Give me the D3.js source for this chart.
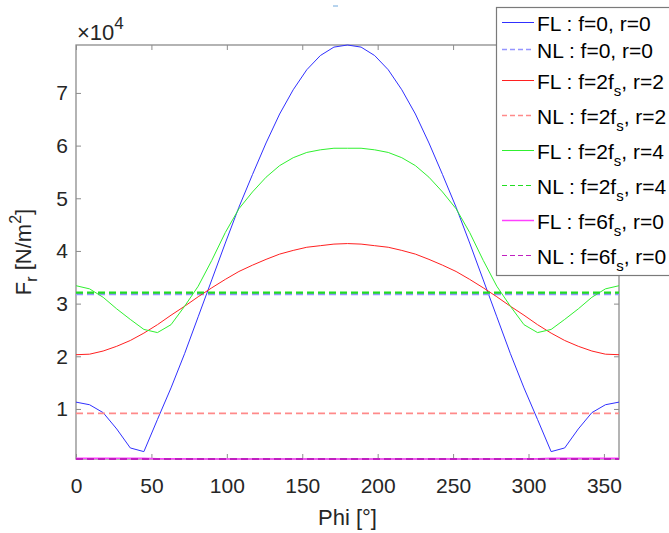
<!DOCTYPE html>
<html>
<head>
<meta charset="utf-8">
<script src="https://cdn.jsdelivr.net/npm/d3@7"></script>
<style>
    body { margin: 0; background: #fff; }
    svg { display: block; font-family: "Liberation Sans", Arial, sans-serif; }
    .tick text { fill: #262626; font-size: 21px; }
    .tick line { stroke: #8c8c8c; }
    .axis-label { fill: #262626; font-size: 22px; }
    .legend text { fill: #000; font-size: 21px; }
</style>
</head>
<body>
<div id="chart"></div>
<script>

// Phi grid [deg]
var phi = [0, 9, 18, 27, 36, 45, 54, 63, 72, 81, 90, 99, 108, 117, 126, 135, 144, 153, 162, 171, 180,
    189, 198, 207, 216, 225, 234, 243, 252, 261, 270, 279, 288, 297, 306, 315, 324, 333, 342, 351, 360];

// full load values [N/m^2]
var flF0R0 = [11300, 10800, 9300, 6200, 2600, 1900, 8000, 14000, 20500, 27500, 34500, 41500, 48300, 54500, 60500, 66000, 70600, 74400, 77100, 78700, 79100,
    78700, 77100, 74400, 70600, 66000, 60500, 54500, 48300, 41500, 34500, 27500, 20500, 14000, 8000, 1900, 2600, 6200, 9300, 10800, 11300];
var flF2R2 = [20300, 20400, 21000, 21900, 23000, 24400, 26000, 27800, 29500, 31300, 33000, 34600, 36100, 37300, 38400, 39400, 40100, 40700, 41000, 41300, 41400,
    41300, 41000, 40700, 40100, 39400, 38400, 37300, 36100, 34600, 33000, 31300, 29500, 27800, 26000, 24400, 23000, 21900, 21000, 20400, 20300];
var flF2R4 = [33400, 32800, 31200, 29000, 27000, 25100, 24500, 26000, 29500, 33300, 38200, 43500, 48000, 51200, 54000, 56200, 57700, 58700, 59200, 59500, 59500,
    59500, 59200, 58700, 57700, 56200, 54000, 51200, 48000, 43500, 38200, 33300, 29500, 26000, 24500, 25100, 27000, 29000, 31200, 32800, 33400];
var flF6R0 = [650, 650, 650, 650, 650, 620, 560, 540, 530, 520, 510, 500, 500, 500, 500, 500, 500, 500, 500, 500, 500,
    500, 500, 500, 500, 500, 500, 500, 500, 500, 510, 520, 530, 540, 560, 620, 650, 650, 650, 650, 650];

// no load values (constant over phi) [N/m^2]
var nlF0R0 = 31800;
var nlF2R2 = 9160;
var nlF2R4 = 32100;
var nlF6R0 = 500;

var yTicks = [10000, 20000, 30000, 40000, 50000, 60000, 70000];
var xTicks = [0, 50, 100, 150, 200, 250, 300, 350];

var seriesInfo = [
    { name: "FL", f: "0", sub: "", r: "0", values: flF0R0, color: "#3030ff", dash: null, width: 1, legWidth: 1 },
    { name: "NL", f: "0", sub: "", r: "0", values: phi.map(function(){ return nlF0R0; }), color: "#9595ff", dash: "7,4", width: 2.2, legWidth: 1.5 },
    { name: "FL", f: "2f", sub: "s", r: "2", values: flF2R2, color: "#ff2020", dash: null, width: 1, legWidth: 1 },
    { name: "NL", f: "2f", sub: "s", r: "2", values: phi.map(function(){ return nlF2R2; }), color: "#ff8a8a", dash: "7,4", width: 1.6, legWidth: 1.5 },
    { name: "FL", f: "2f", sub: "s", r: "4", values: flF2R4, color: "#30f030", dash: null, width: 1, legWidth: 1 },
    { name: "NL", f: "2f", sub: "s", r: "4", values: phi.map(function(){ return nlF2R4; }), color: "#22dd22", dash: "7,4", width: 2.2, legWidth: 1 },
    { name: "FL", f: "6f", sub: "s", r: "0", values: flF6R0, color: "#ff40ff", dash: null, width: 1.5, legWidth: 1.5 },
    { name: "NL", f: "6f", sub: "s", r: "0", values: phi.map(function(){ return nlF6R0; }), color: "#c020c0", dash: "7,4", width: 2, legWidth: 1 }
];

LinePlot = function(_parentElement, _series){
    this.parentElement = _parentElement;
    this.series = _series;
    this.initVis();
};

LinePlot.prototype.initVis = function(){
    var vis = this;

    vis.margin = { top: 45, right: 50, bottom: 74, left: 76 };
    vis.width = 669 - vis.margin.left - vis.margin.right;
    vis.height = 533 - vis.margin.top - vis.margin.bottom;

    vis.root = d3.select("#" + vis.parentElement).append("svg")
        .attr("width", 669)
        .attr("height", 533);

    vis.svg = vis.root.append("g")
        .attr("transform", "translate(" + vis.margin.left + "," + vis.margin.top + ")");

    vis.x = d3.scaleLinear().domain([0, 360]).range([0, vis.width]);
    vis.y = d3.scaleLinear().domain([500, 79100]).range([vis.height, 0]);

    vis.line = d3.line()
        .x(function(d) { return vis.x(d.phi); })
        .y(function(d) { return vis.y(d.v); });

    vis.updateVis();
};

LinePlot.prototype.updateVis = function(){
    var vis = this;

    // axes, ticks pointing inwards on all four sides
    vis.svg.append("g")
        .attr("class", "x-axis")
        .attr("transform", "translate(0," + vis.height + ")")
        .call(d3.axisBottom(vis.x).tickValues(xTicks).tickSizeInner(-5).tickSizeOuter(0).tickPadding(19));
    vis.svg.append("g")
        .attr("class", "x-axis-top")
        .call(d3.axisTop(vis.x).tickValues(xTicks).tickSizeInner(-5).tickSizeOuter(0).tickFormat(""));
    vis.svg.append("g")
        .attr("class", "y-axis")
        .call(d3.axisLeft(vis.y).tickValues(yTicks).tickSizeInner(-5).tickSizeOuter(0).tickPadding(8)
            .tickFormat(function(d){ return d / 10000; }));
    vis.svg.append("g")
        .attr("class", "y-axis-right")
        .attr("transform", "translate(" + vis.width + ",0)")
        .call(d3.axisRight(vis.y).tickValues(yTicks).tickSizeInner(-5).tickSizeOuter(0).tickFormat(""));

    vis.svg.selectAll(".domain").remove();

    vis.svg.append("rect")
        .attr("width", vis.width)
        .attr("height", vis.height)
        .attr("fill", "none")
        .attr("stroke", "#8c8c8c")
        .attr("stroke-width", 1.3);

    // exponent label
    var expo = vis.svg.append("text")
        .attr("class", "axis-label")
        .attr("x", 1)
        .attr("y", -5);
    expo.append("tspan").text("\u00d710");
    expo.append("tspan").attr("dy", -11).style("font-size", "17px").text("4");

    // lines
    vis.svg.selectAll(".series")
        .data(vis.series)
        .enter().append("path")
        .attr("class", "series")
        .attr("fill", "none")
        .attr("stroke", function(d){ return d.color; })
        .attr("stroke-width", function(d){ return d.width; })
        .attr("stroke-dasharray", function(d){ return d.dash; })
        .attr("d", function(d){
            return vis.line(phi.map(function(p, i){ return { phi: p, v: d.values[i] }; }));
        });

    // axis titles
    vis.svg.append("text")
        .attr("class", "axis-label")
        .attr("text-anchor", "middle")
        .attr("x", vis.width / 2)
        .attr("y", vis.height + 66)
        .text("Phi [\u00b0]");

    var yl = vis.svg.append("text")
        .attr("class", "axis-label")
        .attr("text-anchor", "middle")
        .attr("transform", "translate(-45," + (vis.height / 2) + ")rotate(-90)");
    yl.append("tspan").text("F");
    yl.append("tspan").attr("dy", 6).style("font-size", "16px").text("r");
    yl.append("tspan").attr("dy", -6).text(" [N/m");
    yl.append("tspan").attr("dy", -10).style("font-size", "16px").text("2");
    yl.append("tspan").attr("dy", 10).text("]");

    // small mark above the axes
    vis.root.append("line")
        .attr("x1", 333).attr("x2", 338)
        .attr("y1", 6).attr("y2", 6)
        .attr("stroke", "#6fa8dc")
        .attr("stroke-width", 1);

    // legend
    var rowH = vis.series.map(function(d){ return d.sub ? 35 : 27; });
    var rowY = [];
    var acc = 9;
    rowH.forEach(function(h){ rowY.push(acc + h / 2); acc += h; });

    vis.legend = vis.root.append("g").attr("class", "legend");
    vis.legend.append("rect")
        .attr("x", 496.5)
        .attr("y", 7.5)
        .attr("width", 200)
        .attr("height", acc - 7 + 2)
        .attr("fill", "#fff")
        .attr("stroke", "#7a7a7a")
        .attr("stroke-width", 1.2);

    var item = vis.legend.selectAll(".item")
        .data(vis.series)
        .enter().append("g")
        .attr("class", "item")
        .attr("transform", function(d, i){ return "translate(0," + rowY[i] + ")"; });

    item.append("line")
        .attr("x1", 502).attr("x2", 534)
        .attr("stroke", function(d){ return d.color; })
        .attr("stroke-width", function(d){ return d.legWidth; })
        .attr("stroke-dasharray", function(d){ return d.dash ? "5,3" : null; });

    var t = item.append("text")
        .attr("x", 537)
        .attr("y", 8);
    t.append("tspan").text(function(d){ return d.name + " : f=" + d.f; });
    t.append("tspan").attr("dy", function(d){ return d.sub ? 7 : 0; })
        .style("font-size", "15px")
        .text(function(d){ return d.sub; });
    t.append("tspan").attr("dy", function(d){ return d.sub ? -7 : 0; })
        .text(function(d){ return ", r=" + d.r; });
};

new LinePlot("chart", seriesInfo);

</script>
</body>
</html>
